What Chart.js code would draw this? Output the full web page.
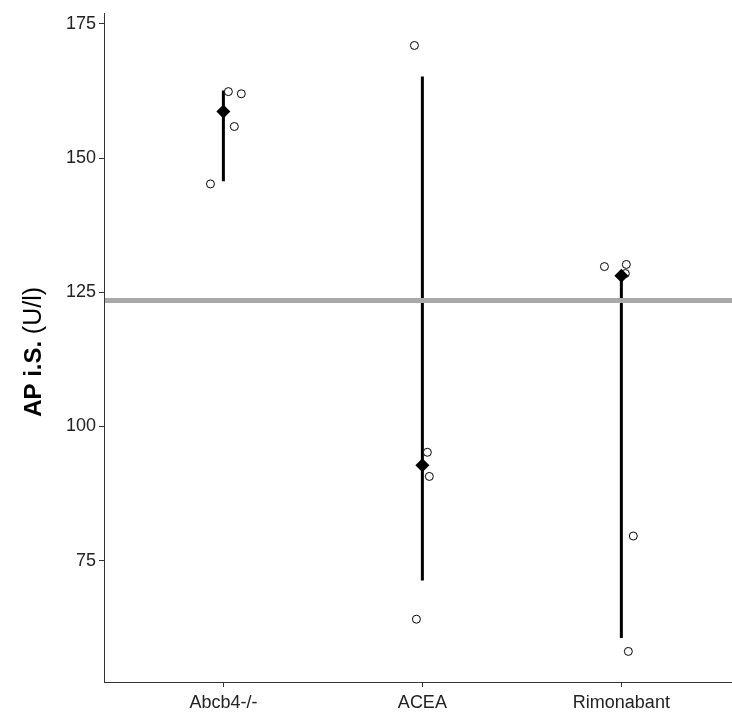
<!DOCTYPE html>
<html>
<head>
<meta charset="utf-8">
<script src="https://cdn.jsdelivr.net/npm/chart.js@4.4.1/dist/chart.umd.min.js"></script>
<style>
  body { margin: 0; background: #fff; }
  #wrap { width: 732px; height: 713px; }
</style>
</head>
<body>
<div id="wrap"><canvas id="ap-chart" width="732" height="713"></canvas></div>
<script>
// Gruppen und Messwerte
const groups = ['Abcb4-/-', 'ACEA', 'Rimonabant'];
const pointValues = [
    [145.2, 162.4, 162.0, 155.9],
    [171.0, 95.2, 90.7, 64.1],
    [129.8, 130.2, 128.5, 79.6, 58.1]
];
// horizontale Streuung der Einzelwerte (in Gruppeneinheiten)
const jitter = [
    [-0.065, 0.025, 0.09, 0.055],
    [-0.04, 0.025, 0.035, -0.03],
    [-0.085, 0.025, 0.02, 0.06, 0.035]
];
const medians = [158.7, 92.8, 128.1];
const barLow = [145.7, 71.3, 60.6];
const barHigh = [162.6, 165.2, 129.1];
const refValue = 123.5;
const yTicks = [75, 100, 125, 150, 175];

const yMin = 52.4;
const yMax = 176.9;

const axisColor = '#333';
const tickFont = { family: "'Liberation Sans', Arial, sans-serif", size: 18 };

// Einzelpunkte
const scatterPoints = [];
pointValues.forEach(function (vals, g) {
    vals.forEach(function (v, k) {
        scatterPoints.push({ x: g + 1 + jitter[g][k], y: v });
    });
});

// Fehlerbalken je Gruppe
const barSets = groups.map(function (name, g) {
    return {
        type: 'line',
        data: [{ x: g + 1, y: barLow[g] }, { x: g + 1, y: barHigh[g] }],
        borderColor: '#000',
        borderWidth: 3,
        pointRadius: 0,
        fill: false,
        order: 3
    };
});

// Referenzlinie (grau)
const refLinePlugin = {
    id: 'refLine',
    afterDatasetsDraw: function (chart) {
        const ctx = chart.ctx;
        const area = chart.chartArea;
        const y = chart.scales.y.getPixelForValue(refValue);
        ctx.save();
        ctx.strokeStyle = '#a9a9a9';
        ctx.lineWidth = 5;
        ctx.beginPath();
        ctx.moveTo(area.left + 1, y);
        ctx.lineTo(area.right, y);
        ctx.stroke();
        ctx.restore();
    }
};

// Achsentitel mit fettem und normalem Teil
const yTitlePlugin = {
    id: 'yTitle',
    afterDraw: function (chart) {
        const ctx = chart.ctx;
        const area = chart.chartArea;
        const boldPart = 'AP i.S. ';
        const normalPart = '(U/l)';
        const boldFont = "bold 24px 'Liberation Sans', Arial, sans-serif";
        const normalFont = "25px 'Liberation Sans', Arial, sans-serif";
        ctx.save();
        ctx.font = boldFont;
        const w1 = ctx.measureText(boldPart).width;
        ctx.font = normalFont;
        const w2 = ctx.measureText(normalPart).width;
        const cy = (area.top + area.bottom) / 2 + 4;
        ctx.translate(41, cy);
        ctx.rotate(-Math.PI / 2);
        ctx.fillStyle = '#000';
        ctx.textBaseline = 'alphabetic';
        ctx.textAlign = 'left';
        const start = -(w1 + w2) / 2;
        ctx.font = boldFont;
        ctx.fillText(boldPart, start, 0);
        ctx.font = normalFont;
        ctx.fillText(normalPart, start + w1, 0);
        ctx.restore();
    }
};

const chartElement = document.getElementById('ap-chart');
new Chart(chartElement, {
    type: 'scatter',
    data: {
        datasets: [
            {
                label: 'Median',
                data: medians.map(function (m, g) { return { x: g + 1, y: m }; }),
                pointStyle: 'rectRot',
                pointRadius: 7,
                backgroundColor: '#000',
                borderColor: '#000',
                borderWidth: 0,
                order: 1
            },
            {
                label: 'Einzelwerte',
                data: scatterPoints,
                pointStyle: 'circle',
                pointRadius: 4,
                backgroundColor: '#fff',
                borderColor: '#000',
                borderWidth: 1,
                order: 2
            }
        ].concat(barSets)
    },
    options: {
        responsive: false,
        animation: false,
        events: [],
        layout: { autoPadding: false, padding: { top: 10, left: 0, right: 0, bottom: 0 } },
        plugins: {
            legend: { display: false },
            tooltip: { enabled: false }
        },
        scales: {
            x: {
                type: 'linear',
                min: 0.4,
                max: 3.556,
                border: { display: true, color: axisColor, width: 1 },
                grid: { drawOnChartArea: false, drawTicks: true, tickLength: 5, color: axisColor },
                afterBuildTicks: function (scale) {
                    scale.ticks = groups.map(function (name, g) { return { value: g + 1 }; });
                },
                afterFit: function (scale) { scale.height = 31; },
                ticks: {
                    autoSkip: false,
                    maxRotation: 0,
                    padding: 5,
                    color: '#222',
                    font: tickFont,
                    callback: function (v) { return groups[v - 1]; }
                }
            },
            y: {
                type: 'linear',
                min: yMin,
                max: yMax,
                border: { display: true, color: axisColor, width: 1 },
                grid: { drawOnChartArea: false, drawTicks: true, tickLength: 5, color: axisColor },
                afterBuildTicks: function (scale) {
                    scale.ticks = yTicks.map(function (v) { return { value: v }; });
                },
                afterFit: function (scale) { scale.width = 104; },
                ticks: {
                    padding: 3,
                    color: '#222',
                    font: tickFont
                }
            }
        }
    },
    plugins: [refLinePlugin, yTitlePlugin]
});
</script>
</body>
</html>
